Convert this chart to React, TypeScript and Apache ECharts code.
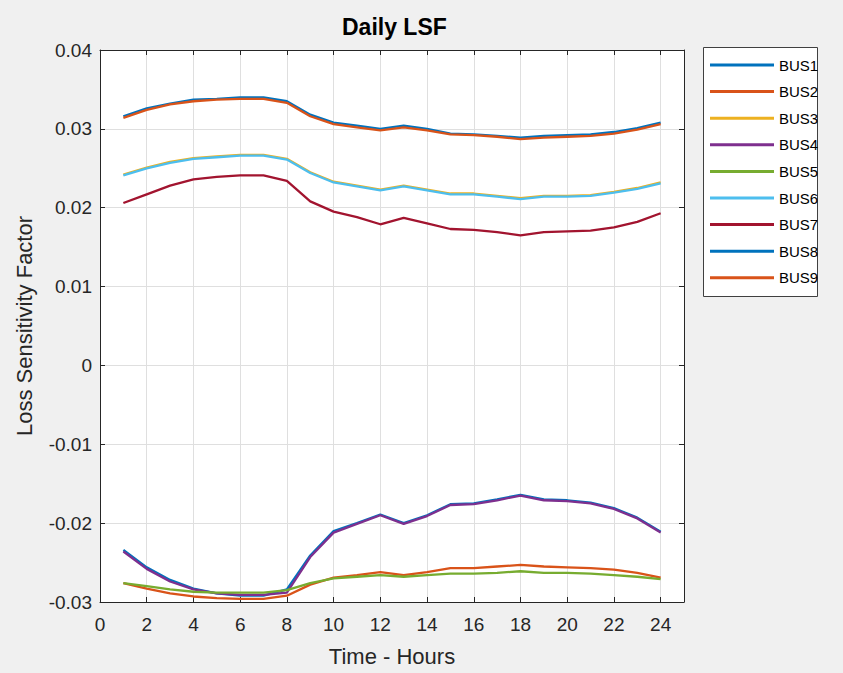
import React, { useEffect, useRef } from "react";
import * as echarts from "echarts";

// Hour of the day for each sample
const hours = [1, 2, 3, 4, 5, 6, 7, 8, 9, 10, 11, 12, 13, 14, 15, 16, 17, 18, 19, 20, 21, 22, 23, 24];

// Loss sensitivity factor per bus over the day
const bus1 = [-0.0234, -0.0256, -0.0272, -0.0283, -0.0289, -0.0292, -0.0292, -0.0284, -0.0241, -0.021, -0.02, -0.0189, -0.02, -0.019, -0.0176, -0.0175, -0.017, -0.0164, -0.017, -0.0171, -0.0174, -0.0181, -0.0193, -0.0211];
const bus2 = [-0.0276, -0.0283, -0.0289, -0.0293, -0.0295, -0.0296, -0.0296, -0.0292, -0.0278, -0.0269, -0.0266, -0.0262, -0.0266, -0.0262, -0.0257, -0.0257, -0.0255, -0.0253, -0.0255, -0.0256, -0.0257, -0.0259, -0.0263, -0.0269];
const bus3 = [0.0242, 0.0251, 0.0258, 0.0263, 0.0265, 0.0267, 0.0267, 0.0262, 0.0245, 0.0233, 0.0228, 0.0223, 0.0228, 0.0223, 0.0218, 0.0218, 0.0215, 0.0212, 0.0215, 0.0215, 0.0216, 0.022, 0.0225, 0.0232];
const bus4 = [-0.0236, -0.0258, -0.0274, -0.0284, -0.0289, -0.0291, -0.0291, -0.0288, -0.0243, -0.0212, -0.0201, -0.019, -0.0201, -0.0191, -0.0177, -0.0176, -0.0171, -0.0165, -0.0171, -0.0172, -0.0175, -0.0182, -0.0194, -0.0212];
const bus5 = [-0.0276, -0.028, -0.0284, -0.0287, -0.0288, -0.0288, -0.0288, -0.0285, -0.0276, -0.027, -0.0268, -0.0266, -0.0268, -0.0266, -0.0264, -0.0264, -0.0263, -0.0261, -0.0263, -0.0263, -0.0264, -0.0266, -0.0268, -0.0271];
const bus6 = [0.0241, 0.025, 0.0257, 0.0262, 0.0264, 0.0266, 0.0266, 0.0261, 0.0244, 0.0232, 0.0227, 0.0222, 0.0227, 0.0222, 0.0217, 0.0217, 0.0214, 0.0211, 0.0214, 0.0214, 0.0215, 0.0219, 0.0224, 0.0231];
const bus7 = [0.0206, 0.0217, 0.0228, 0.0236, 0.0239, 0.0241, 0.0241, 0.0234, 0.0208, 0.0195, 0.0188, 0.0179, 0.0187, 0.018, 0.0173, 0.0172, 0.0169, 0.0165, 0.0169, 0.017, 0.0171, 0.0175, 0.0182, 0.0193];
const bus8 = [0.0316, 0.0326, 0.0332, 0.0337, 0.0338, 0.034, 0.034, 0.0335, 0.0318, 0.0308, 0.0304, 0.03, 0.0304, 0.03, 0.0294, 0.0293, 0.0291, 0.0289, 0.0291, 0.0292, 0.0293, 0.0296, 0.0301, 0.0308];
const bus9 = [0.0314, 0.0324, 0.0331, 0.0335, 0.0337, 0.0338, 0.0338, 0.0333, 0.0316, 0.0306, 0.0302, 0.0298, 0.0302, 0.0298, 0.0293, 0.0292, 0.029, 0.0287, 0.0289, 0.029, 0.0291, 0.0294, 0.0299, 0.0306];

const busNames = ["BUS1", "BUS2", "BUS3", "BUS4", "BUS5", "BUS6", "BUS7", "BUS8", "BUS9"];
const busValues = [bus1, bus2, bus3, bus4, bus5, bus6, bus7, bus8, bus9];
const busColors = ["#0072BD", "#D95319", "#EDB120", "#7E2F8E", "#77AC30", "#4DBEEE", "#A2142F", "#0072BD", "#D95319"];

const FONT = "'Liberation Sans', Arial, sans-serif";
const AXIS = "#262626";
const GRID = "#dfdfdf";

export default function App() {
  const ref = useRef<HTMLDivElement>(null);

  useEffect(() => {
    if (!ref.current) return;
    const chart = echarts.init(ref.current, null, { renderer: "svg" });

    const fmtY = (v: number) => {
      const r = Math.round(v * 100) / 100;
      return r === 0 ? "0" : String(r);
    };

    const baseX = {
      type: "value" as const,
      min: 0,
      max: 25,
      interval: 2,
      axisLine: { show: true, onZero: false, lineStyle: { color: AXIS, width: 1 } },
      axisTick: { show: true, inside: true, length: 5, lineStyle: { color: AXIS } },
      splitLine: { show: false },
    };
    const baseY = {
      type: "value" as const,
      min: -0.03,
      max: 0.04,
      interval: 0.01,
      axisLine: { show: true, onZero: false, lineStyle: { color: AXIS, width: 1 } },
      axisTick: { show: true, inside: true, length: 5, lineStyle: { color: AXIS } },
      splitLine: { show: false },
    };

    chart.setOption({
      animation: false,
      backgroundColor: "#f0f0f0",
      textStyle: { fontFamily: FONT },
      title: {
        text: "Daily LSF",
        left: 342,
        top: 15,
        padding: 0,
        textStyle: { fontFamily: FONT, fontSize: 23, fontWeight: "bold", color: "#000" },
      },
      graphic: [
        {
          type: "rect",
          left: 703,
          top: 47,
          z: 0,
          shape: { width: 114, height: 249 },
          style: { fill: "#ffffff", stroke: "#404040", lineWidth: 1 },
        },
      ],
      legend: {
        orient: "vertical",
        left: 710,
        top: 57,
        padding: 0,
        itemWidth: 64,
        itemHeight: 3,
        itemGap: 10.6,
        icon: "rect",
        z: 5,
        data: busNames,
        textStyle: { fontFamily: FONT, fontSize: 15, color: "#000", lineHeight: 16 },
      },
      grid: {
        left: 100,
        top: 50,
        right: 159,
        bottom: 71,
        show: true,
        backgroundColor: "#ffffff",
        borderWidth: 0,
      },
      xAxis: [
        {
          ...baseX,
          position: "bottom",
          splitLine: { show: true, lineStyle: { color: GRID, width: 1 } },
          axisLabel: {
            fontFamily: FONT,
            fontSize: 19,
            color: AXIS,
            margin: 13,
            showMaxLabel: false,
            formatter: (v: number) => (v > 24 ? "" : String(v)),
          },
          name: "Time - Hours",
          nameLocation: "middle",
          nameGap: 43,
          nameTextStyle: { fontFamily: FONT, fontSize: 22, color: AXIS },
        },
        { ...baseX, position: "top", axisLabel: { show: false } },
      ],
      yAxis: [
        {
          ...baseY,
          position: "left",
          splitLine: { show: true, lineStyle: { color: GRID, width: 1 } },
          axisLabel: { fontFamily: FONT, fontSize: 19, color: AXIS, margin: 8, formatter: fmtY },
          name: "Loss Sensitivity Factor",
          nameLocation: "middle",
          nameGap: 65,
          nameTextStyle: { fontFamily: FONT, fontSize: 22, color: AXIS },
        },
        { ...baseY, position: "right", axisLabel: { show: false } },
      ],
      series: busNames.map((name, k) => ({
        name,
        type: "line",
        xAxisIndex: 0,
        yAxisIndex: 0,
        symbol: "none",
        color: busColors[k],
        lineStyle: { width: 2.3, color: busColors[k] },
        data: hours.map((h, i) => [h, busValues[k][i]]),
      })),
    });

    return () => chart.dispose();
  }, []);

  return (
    <div
      ref={ref}
      style={{ position: "fixed", left: 0, top: 0, width: 843, height: 673 }}
    />
  );
}
